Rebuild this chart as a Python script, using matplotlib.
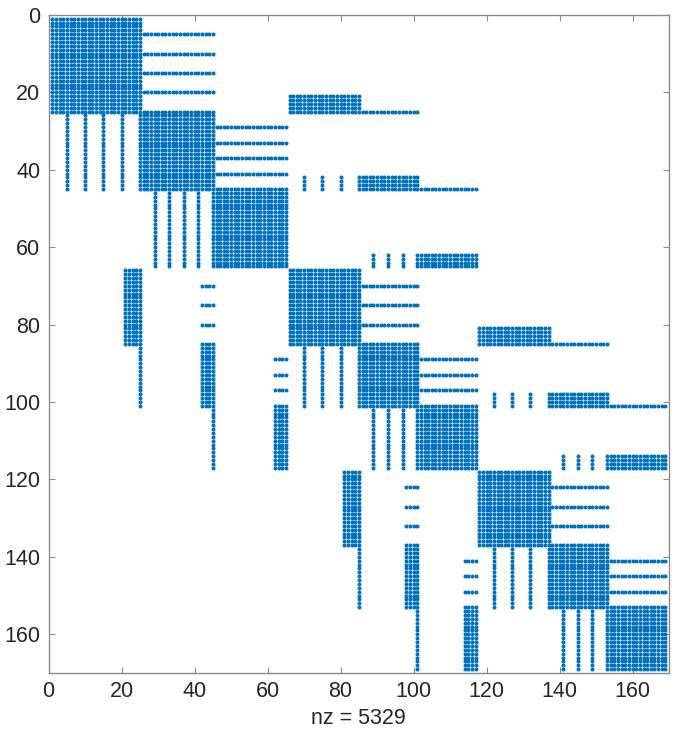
import numpy as np
import matplotlib
matplotlib.use('Agg')
import matplotlib.pyplot as plt

n = 169

# dense diagonal blocks (first, last index, 1-based)
diag_blocks = [(1, 25), (25, 45), (45, 65),
               (66, 85), (85, 101), (101, 117),
               (118, 137), (137, 153), (153, 169)]

# rows of a block that reach into the next block: rows, first col, last col
block_lines = [([5, 10, 15, 20], 26, 45),
               ([29, 33, 37, 41], 46, 65),
               ([70, 75, 80], 86, 101),
               ([89, 93, 97], 102, 117),
               ([122, 127, 132], 138, 153),
               ([141, 145, 149], 154, 169)]

# coupling rectangles between groups: row0, row1, col0, col1
coupling_blocks = [(21, 25, 66, 85), (42, 45, 85, 101), (62, 65, 101, 117),
                   (81, 85, 118, 137), (98, 101, 137, 153), (114, 117, 153, 169)]

# short coupling dashes: row0, row1, cols
coupling_dashes = [(42, 45, [70, 75, 80]), (62, 65, [89, 93, 97]),
                   (98, 101, [122, 127, 132]), (114, 117, [141, 145, 149])]

# single rows running on past a coupling rectangle: row, col0, col1
coupling_tails = [(25, 86, 101), (45, 102, 117), (85, 138, 153), (101, 154, 169)]

M = np.zeros((n + 1, n + 1), dtype=bool)
for a, b in diag_blocks:
    M[a:b + 1, a:b + 1] = True
for rows, c0, c1 in block_lines:
    for r in rows:
        M[r, c0:c1 + 1] = True
for r0, r1, c0, c1 in coupling_blocks:
    M[r0:r1 + 1, c0:c1 + 1] = True
for r0, r1, cols in coupling_dashes:
    for c in cols:
        M[r0:r1 + 1, c] = True
for r, c0, c1 in coupling_tails:
    M[r, c0:c1 + 1] = True
M = M | M.T  # symmetric

rr, cc = np.nonzero(M)
nz = len(rr)

plt.rcParams['font.family'] = ['Liberation Sans', 'DejaVu Sans']

fig = plt.figure(figsize=(6.78, 7.42), dpi=100)
ax = fig.add_axes([0.0718, 0.093, 0.915, 0.887])
ax.plot(cc, rr, 'o', ms=2.9, mew=0, color='#0072BD')

ax.set_xlim(0, n + 1)
ax.set_ylim(n + 1, 0)
ax.set_xticks(np.arange(0, 161, 20))
ax.set_yticks(np.arange(0, 161, 20))
ax.tick_params(direction='in', length=4, width=0.8, color='#8a8a8a',
               labelsize=15.5, labelcolor='#262626', top=True, right=True,
               pad=6)
for s in ax.spines.values():
    s.set_color('#8a8a8a')
    s.set_linewidth(1.0)
ax.set_xlabel('nz = {}'.format(nz), fontsize=15.5, color='#262626', labelpad=4)

fig.savefig('out.png', dpi=100)
